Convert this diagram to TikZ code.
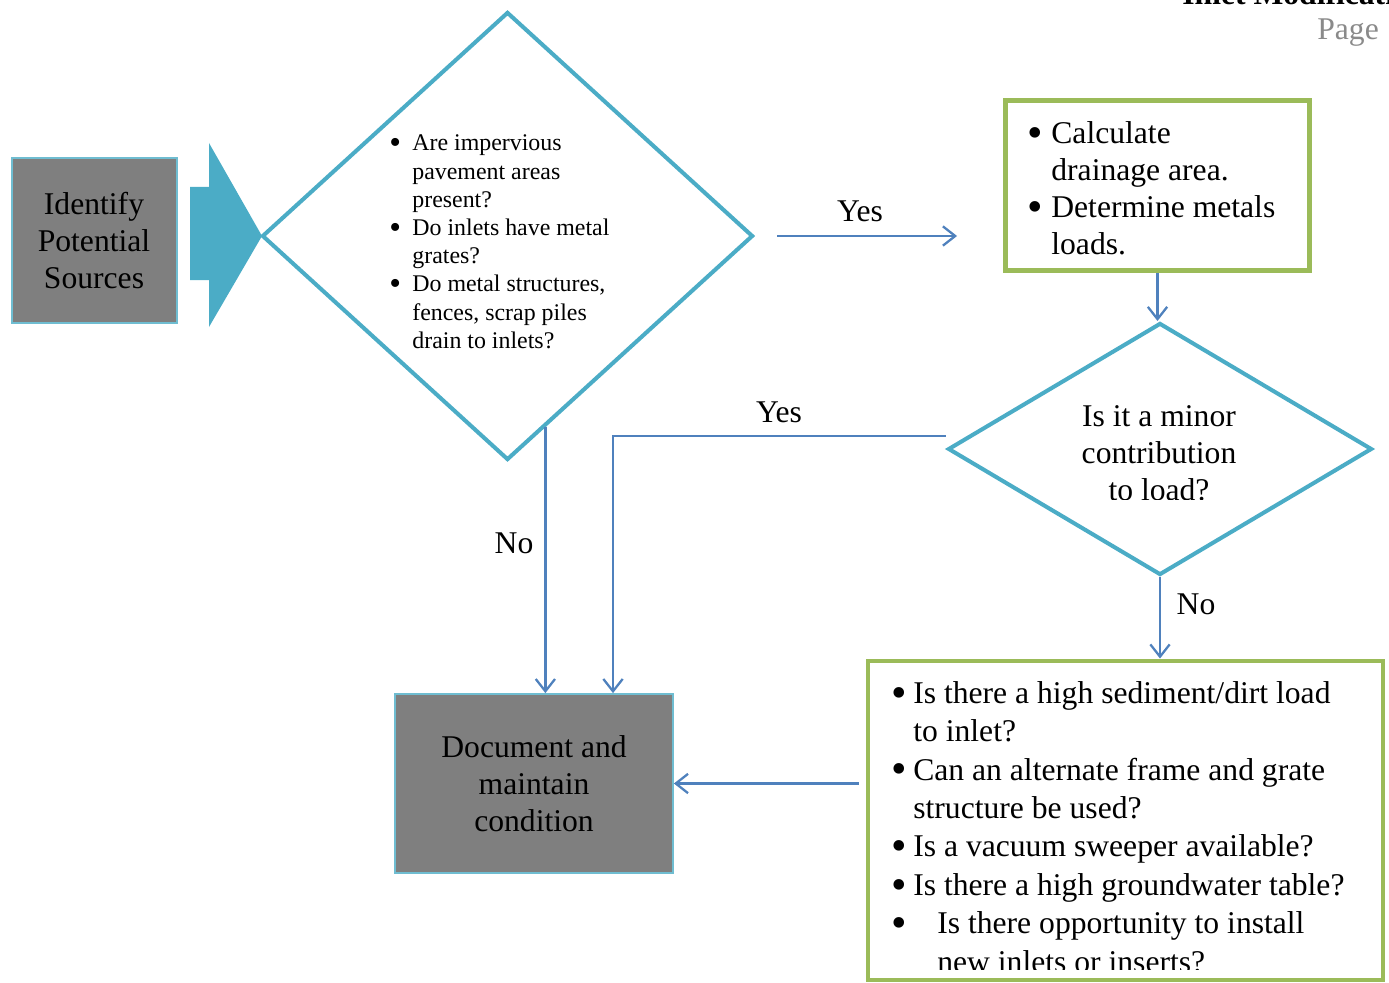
\documentclass[tikz,border=0pt]{standalone}
\usepackage{fontspec}
\setmainfont{Liberation Serif}
\usetikzlibrary{shapes.geometric,arrows.meta,calc}

% one drawing unit
\newlength\px
\setlength\px{0.02cm}

\definecolor{diaTeal}{HTML}{4BACC6}
\definecolor{boxGreen}{HTML}{9BBB59}
\definecolor{flowBlue}{HTML}{4F81BD}
\definecolor{boxGray}{HTML}{7F7F7F}
\definecolor{pageGray}{HTML}{8A8A8A}

% a heavy bullet set in a box of fixed width, so that the item text starts at a fixed indent
\newcommand\bul[1]{\makebox[#1][l]{\smash{\raisebox{-0.12em}{\scalebox{1.4}{\textbullet}}}}}

\begin{document}
\begin{tikzpicture}[x=0.02cm,y=-0.02cm,
  decision/.style={draw=diaTeal,line width=2.3pt,diamond,inner sep=0pt,fill=white},
  greybox/.style={draw=diaTeal!80,line width=1pt,fill=boxGray,inner sep=0pt},
  greenbox/.style={draw=boxGreen,line width=2.8pt,fill=white,inner sep=0pt},
  flow/.style={draw=flowBlue,line width=1.3pt,-{Straight Barb[length=7pt,width=11pt]}},
  lbl/.style={font=\fontsize{18}{21}\selectfont,inner sep=0pt,anchor=base},
  txt/.style={inner sep=0pt}]

\useasboundingbox (0,0) rectangle (1389,983);
\clip (0,0) rectangle (1389,983);

% page header
\node[anchor=base west,inner sep=0pt,font=\fontsize{18}{21}\selectfont\bfseries] (hdr) at (1182,5) {Inlet Modification};
\node[anchor=base west,inner sep=0pt,text=pageGray,font=\fontsize{18}{21}\selectfont] (pg) at (1317,40) {Page 1};

% start box and the broad arrow into the first decision
\node[greybox,minimum width=165\px,minimum height=165\px] (src) at (94.5,240.5) {};
\fill[diaTeal] (190,187) -- (209,187) -- (209,143) -- (262,236) -- (209,327) -- (209,280) -- (190,280) -- cycle;

% shapes
\node[decision,minimum width=491\px,minimum height=448\px] (d1) at (507.5,236) {};
\node[greenbox,minimum width=304\px,minimum height=170\px] (g1) at (1157.5,185.5) {};
\node[decision,minimum width=424\px,minimum height=252\px] (d2) at (1160,449) {};
\node[greybox,minimum width=278\px,minimum height=179\px] (doc) at (534,783.5) {};
\node[greenbox,minimum width=515\px,minimum height=319\px] (g2) at (1125.5,820.5) {};

% texts
\node[txt,font=\fontsize{18}{20.9}\selectfont] (srct) at (94,244)
  {\begin{tabular}{@{}c@{}}Identify\\Potential\\Sources\end{tabular}};

\node[txt,anchor=west,font=\fontsize{13.6}{16.05}\selectfont] (d1t) at (389,244)
  {\begin{tabular}{@{}l@{}}
   \bul{23\px}Are impervious\\
   \hspace*{23\px}pavement areas\\
   \hspace*{23\px}present?\\
   \bul{23\px}Do inlets have metal\\
   \hspace*{23\px}grates?\\
   \bul{23\px}Do metal structures,\\
   \hspace*{23\px}fences, scrap piles\\
   \hspace*{23\px}drain to inlets?
   \end{tabular}};

\node[txt,anchor=west,font=\fontsize{18}{21.05}\selectfont] (g1t) at (1027,192)
  {\begin{tabular}{@{}l@{}}
   \bul{24\px}Calculate\\
   \hspace*{24\px}drainage area.\\
   \bul{24\px}Determine metals\\
   \hspace*{24\px}loads.
   \end{tabular}};

\begin{scope}
  \clip (950,380) rectangle (1370,499);
  \node[txt,font=\fontsize{18}{21.05}\selectfont] (d2t) at (1159,456)
    {\begin{tabular}{@{}c@{}}Is it a minor\\contribution\\to load?\end{tabular}};
\end{scope}

\node[txt,font=\fontsize{18}{21.3}\selectfont] (doct) at (534,787)
  {\begin{tabular}{@{}c@{}}Document and\\maintain\\condition\end{tabular}};

\begin{scope}
  \clip (870,664) rectangle (1380,969);
  \node[txt,anchor=west,font=\fontsize{18}{21.85}\selectfont] (g2t) at (891,830)
    {\begin{tabular}{@{}l@{}}
     \bul{22\px}Is there a high sediment/dirt load\\
     \hspace*{22\px}to inlet?\\
     \bul{22\px}Can an alternate frame and grate\\
     \hspace*{22\px}structure be used?\\
     \bul{22\px}Is a vacuum sweeper available?\\
     \bul{22\px}Is there a high groundwater table?\\
     \bul{46\px}Is there opportunity to install\\
     \hspace*{46\px}new inlets or inserts?
     \end{tabular}};
\end{scope}

% connectors
\draw[flow] ($(d1.east)+(22,0)$) -- ($(d1.east -| g1.west)+(-46,0)$);
\node[lbl] (yes1) at (860,222) {Yes};

\draw[flow] (g1.south) -- (g1.south |- d2.north);

\coordinate (d2out) at ($(d2.west)+(0,-13)$);
\draw[flow] (d2out) -| ($(doc.north)+(79,0)$);
\node[lbl] (yes2) at (779,422) {Yes};

\coordinate (d1out) at ($(d1.south)!0.153!(d1.east)$);
\draw[flow] (d1out) -- (d1out |- doc.north);
\node[lbl] (no1) at (514,553) {No};

\draw[flow] (d2.south) -- (d2.south |- g2.north);
\node[lbl] (no2) at (1196,614) {No};

\draw[flow] ($(doc.east -| g2.west)+(-7,0)$) -- (doc.east);

\end{tikzpicture}
\end{document}
